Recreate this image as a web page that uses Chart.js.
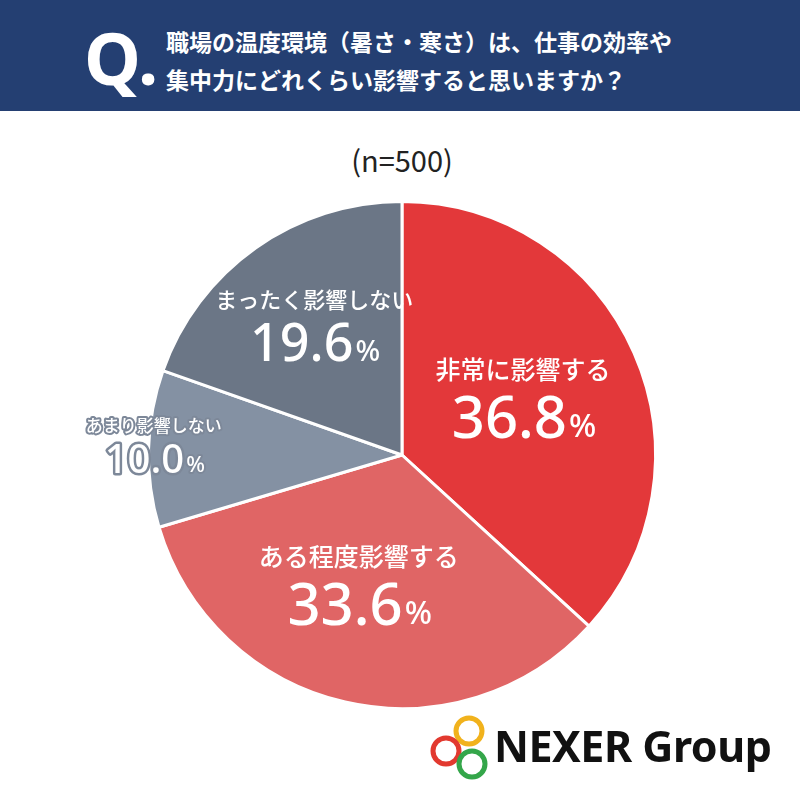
<!DOCTYPE html>
<html><head><meta charset="utf-8">
<script src="https://cdn.jsdelivr.net/npm/chart.js@4"></script>
<style>
body{margin:0;width:800px;height:795px;background:#fff;position:relative;overflow:hidden;font-family:"Noto Sans CJK JP",sans-serif}
#head{position:absolute;left:0;top:0;width:800px;height:111px;background:#243f72;color:#fff}
#q{position:absolute;left:84px;top:8px;font:bold 72px "Noto Sans",sans-serif}
#qt{position:absolute;left:166px;top:22px;font:bold 23px "Noto Sans CJK JP";line-height:38px}
#n{position:absolute;left:0;width:804px;top:138px;text-align:center;font:400 29px "Noto Sans CJK JP";color:#222}
#wrap{position:absolute;left:0;top:190px;width:800px;height:530px}
#logo{position:absolute;left:430px;top:714px;width:360px;height:70px}
#lt{position:absolute;left:494px;top:716px;font:bold 43px "Noto Sans",sans-serif;color:#111;letter-spacing:-0.5px}
</style></head><body>
<div id="head"><div id="q">Q.</div><div id="qt">職場の温度環境（暑さ・寒さ）は、仕事の効率や<br>集中力にどれくらい影響すると思いますか？</div></div>
<div id="n">(n=500)</div>
<div id="wrap"><canvas id="c" width="800" height="530"></canvas></div>
<svg id="logo" viewBox="0 0 360 70"><circle cx="39" cy="17" r="13" fill="none" stroke="#f1b21c" stroke-width="5"/><circle cx="16" cy="37" r="13" fill="none" stroke="#e2392f" stroke-width="5"/><circle cx="42" cy="50" r="13" fill="none" stroke="#34a64a" stroke-width="5"/></svg>
<div id="lt">NEXER Group</div>
<script>
var categories = ['非常に影響する', 'ある程度影響する', 'あまり影響しない', 'まったく影響しない'];
var values = [36.8, 33.6, 10.0, 19.6];
var colors = ['#e3383a', '#e06565', '#8491a3', '#6b7686'];

var labelPlugin = {
    id: 'sliceLabels',
    afterDatasetsDraw: function(chart) {
        var ctx = chart.ctx;
        var arcs = chart.getDatasetMeta(0).data;
        // radial position, x shift and font sizes per slice
        var place = [[0.5, 5], [0.55, -12], [0.92, -15], [0.6, 0]];
        var big = [58, 58, 40, 52], small = [25, 25, 17, 22];
        arcs.forEach(function(arc, i) {
            var mid = (arc.startAngle + arc.endAngle) / 2;
            var r = arc.outerRadius * place[i][0];
            var x = arc.x + Math.cos(mid) * r + place[i][1];
            var y = arc.y + Math.sin(mid) * r;
            var outline = i == 2;
            ctx.save();
            ctx.textAlign = 'center';
            ctx.textBaseline = 'middle';
            ctx.lineJoin = 'round';
            ctx.font = '500 ' + small[i] + 'px "Noto Sans CJK JP"';
            if (outline) { ctx.strokeStyle = '#7d8899'; ctx.lineWidth = 4; ctx.strokeText(categories[i], x, y - big[i] * 0.6); }
            ctx.fillStyle = '#fff';
            ctx.fillText(categories[i], x, y - big[i] * 0.6);
            var num = values[i].toFixed(1);
            ctx.font = '500 ' + big[i] + 'px "Noto Sans"';
            var w1 = ctx.measureText(num).width;
            ctx.font = '500 ' + Math.round(big[i] * 0.55) + 'px "Noto Sans"';
            var w2 = ctx.measureText('%').width;
            var sx = x - (w1 + w2) / 2;
            ctx.textAlign = 'left';
            ctx.font = '500 ' + big[i] + 'px "Noto Sans"';
            if (outline) { ctx.lineWidth = 5; ctx.strokeText(num, sx, y + big[i] * 0.3); }
            ctx.fillText(num, sx, y + big[i] * 0.3);
            ctx.font = '500 ' + Math.round(big[i] * 0.55) + 'px "Noto Sans"';
            if (outline) { ctx.lineWidth = 4; ctx.strokeText('%', sx + w1 + 2, y + big[i] * 0.42); }
            ctx.fillText('%', sx + w1 + 2, y + big[i] * 0.42);
            ctx.restore();
        });
    }
};

new Chart(document.getElementById('c').getContext('2d'), {
    type: 'pie',
    data: {
        labels: categories,
        datasets: [{ data: values, backgroundColor: colors, borderColor: '#fff', borderWidth: 3 }]
    },
    options: {
        responsive: false,
        animation: false,
        layout: { padding: { top: 10, bottom: 10, left: 14, right: 10 } },
        plugins: { legend: { display: false }, tooltip: { enabled: false } }
    },
    plugins: [labelPlugin]
});
</script>
</body></html>
